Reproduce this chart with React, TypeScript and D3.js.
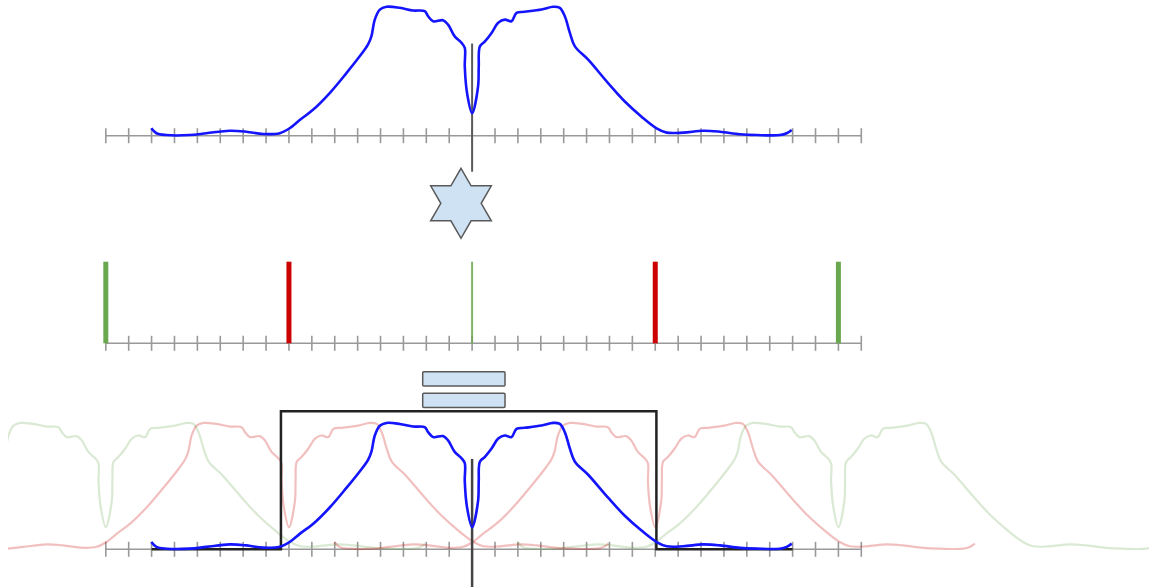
import React from "react";
import * as d3 from "d3";

// Pulse shape: sample positions along the axis (in tick units) and relative amplitude
const signalPosition = [
  -14.01, -13.79, -13.36, -12.34, -11.61, -10.59, -9.86, -9.13, -8.4, -7.97,
  -7.53, -6.95, -6.22, -5.49, -4.91, -4.55, -4.4, -4.25, -4.03, -3.74,
  -3.16, -2.58, -2.07, -1.92, -1.7, -1.27, -1.05, -0.76, -0.46, -0.32,
  -0.32, -0.22, 0.0, 0.26, 0.29, 0.34, 0.56, 0.85, 1.14, 1.43,
  1.72, 1.94, 2.3, 3.03, 3.54, 3.83, 4.05, 4.27, 4.49, 5.07,
  5.94, 6.67, 7.4, 8.06, 8.5, 9.22, 10.1, 10.83, 11.7, 12.43,
  13.45, 13.74, 13.96,
];
const signalAmplitude = [
  0.058, 0.019, 0.005, 0.005, 0.019, 0.039, 0.031, 0.013, 0.02, 0.058,
  0.123, 0.202, 0.333, 0.489, 0.62, 0.711, 0.776, 0.907, 0.985, 1.007,
  0.999, 0.978, 0.973, 0.933, 0.894, 0.902, 0.868, 0.776, 0.725, 0.686,
  0.541, 0.333, 0.176, 0.384, 0.541, 0.698, 0.737, 0.803, 0.882, 0.907,
  0.894, 0.96, 0.968, 0.986, 1.007, 0.999, 0.933, 0.803, 0.698, 0.594,
  0.411, 0.267, 0.149, 0.058, 0.024, 0.024, 0.039, 0.031, 0.011, 0.005,
  0.005, 0.019, 0.045,
];

// Axis tick positions
const axisTicks = [
  -16, -15, -14, -13, -12, -11, -10, -9, -8, -7, -6, -5, -4, -3, -2, -1, 0,
  1, 2, 3, 4, 5, 6, 7, 8, 9, 10, 11, 12, 13, 14, 15, 16, 17,
];

// Impulse train
const combPosition = [-16, -8, 0, 8, 16];
const combAmplitude = [1, 1, 1, 1, 1];
const combKind = ["even", "odd", "even", "odd", "even"];

// Shifted copies of the pulse in the result
const evenShifts = [-16, 0, 16];
const oddShifts = [-8, 8];

// Rectangular window
const windowPosition = [-14, -8.35, -8.35, 8.05, 8.05, 14];
const windowAmplitude = [0, 0, 1.1, 1.1, 0, 0];

const W = 1149;
const H = 587;

const GREEN = "#6aa84f";
const RED = "#cc0000";
const BLUE = "#1414ff";

type Pt = [number, number];

const signal: Pt[] = signalPosition.map((u, i) => [u, signalAmplitude[i]]);
const windowPts: Pt[] = windowPosition.map((u, i) => [u, windowAmplitude[i]]);

const x = d3.scaleLinear().domain([-16, 17]).range([105.8, 861.3]);
const yTop = d3.scaleLinear().domain([0, 1]).range([135.7, 7.7]);
const yComb = d3.scaleLinear().domain([0, 1]).range([343.3, 261.7]);
const yBot = d3.scaleLinear().domain([0, 1]).range([549.3, 423.8]);

function curveFor(y: d3.ScaleLinear<number, number>, shift = 0) {
  return d3
    .line<Pt>()
    .x((d) => x(d[0] + shift))
    .y((d) => y(d[1]))
    .curve(d3.curveCatmullRom.alpha(0.5));
}

function Axis({ y }: { y: number }) {
  const [d0, d1] = x.domain();
  return (
    <g stroke="#999" strokeWidth={1.6}>
      <line x1={x(d0)} x2={x(d1)} y1={y} y2={y} />
      {axisTicks.map((t) => (
        <line key={t} x1={x(t)} x2={x(t)} y1={y - 7.5} y2={y + 7.5} />
      ))}
    </g>
  );
}

function hexagram(cx: number, cy: number, r: number) {
  const inner = r / Math.sqrt(3);
  const pts: Pt[] = d3.range(12).map((i) => {
    const a = -Math.PI / 2 + (i * Math.PI) / 6;
    const rr = i % 2 === 0 ? r : inner;
    return [cx + rr * Math.cos(a), cy + rr * Math.sin(a)];
  });
  return "M" + pts.map((p) => p.join(",")).join("L") + "Z";
}

export default function App() {
  const topLine = curveFor(yTop);
  const botLine = curveFor(yBot);
  const windowLine = d3
    .line<Pt>()
    .x((d) => x(d[0]))
    .y((d) => yBot(d[1]));

  return (
    <svg
      width={W}
      height={H}
      viewBox={`0 0 ${W} ${H}`}
      style={{ position: "absolute", left: 0, top: 0, display: "block" }}
    >
      <defs>
        <clipPath id="resultClip">
          <rect x={8} y={0} width={W - 8} height={H} />
        </clipPath>
      </defs>

      {/* Pulse */}
      <Axis y={yTop(0)} />
      <line
        x1={x(0)}
        x2={x(0)}
        y1={yTop(0.72)}
        y2={yTop(0) + 36}
        stroke="#5a5a5a"
        strokeWidth={2}
      />
      <path d={topLine(signal) ?? ""} fill="none" stroke={BLUE} strokeWidth={2.6} />

      {/* Convolution operator */}
      <path
        d={hexagram(461, 203.3, 35)}
        fill="#cfe2f3"
        stroke="#595959"
        strokeWidth={1.5}
        strokeLinejoin="miter"
      />

      {/* Impulse train */}
      <Axis y={yComb(0)} />
      {combPosition.map((p, i) => (
        <line
          key={p}
          x1={x(p)}
          x2={x(p)}
          y1={yComb(0)}
          y2={yComb(combAmplitude[i])}
          stroke={combKind[i] === "even" ? GREEN : RED}
          strokeWidth={p === 0 ? 2 : 5}
          strokeOpacity={p === 0 ? 0.85 : 1}
        />
      ))}

      {/* Equals sign */}
      <rect x={422.7} y={371.7} width={82.3} height={14.3} rx={1} fill="#cfe2f3" stroke="#595959" strokeWidth={1.5} />
      <rect x={422.7} y={393.3} width={82.3} height={14.3} rx={1} fill="#cfe2f3" stroke="#595959" strokeWidth={1.5} />

      {/* Periodic sum with window */}
      <Axis y={yBot(0)} />
      <g clipPath="url(#resultClip)" fill="none" strokeWidth={2.2}>
        {evenShifts.map((s) => (
          <path key={"e" + s} d={curveFor(yBot, s)(signal) ?? ""} stroke={GREEN} strokeOpacity={0.25} />
        ))}
        {oddShifts.map((s) => (
          <path key={"o" + s} d={curveFor(yBot, s)(signal) ?? ""} stroke={RED} strokeOpacity={0.25} />
        ))}
      </g>
      <path d={windowLine(windowPts) ?? ""} fill="none" stroke="#222" strokeWidth={2.5} />
      <line
        x1={x(0)}
        x2={x(0)}
        y1={yBot(0.72)}
        y2={H}
        stroke="#444"
        strokeWidth={2.5}
      />
      <path d={botLine(signal) ?? ""} fill="none" stroke={BLUE} strokeWidth={2.6} />
    </svg>
  );
}
